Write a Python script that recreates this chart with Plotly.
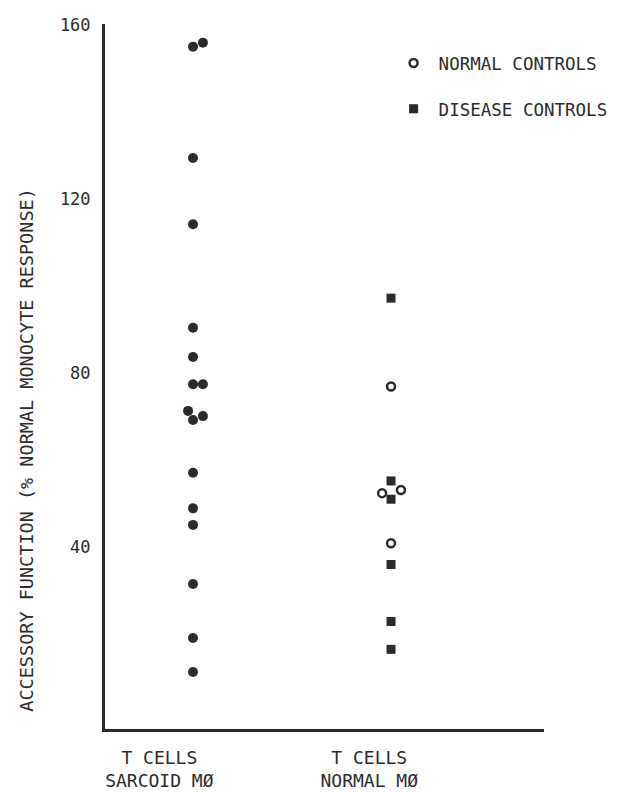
import plotly.graph_objects as go

# ---- data ----
categories = ["T CELLS<br>SARCOID MØ", "T CELLS<br>NORMAL MØ"]
y_ticks = [40, 80, 120, 160]

# T cells + sarcoid macrophages (filled circles)
sarcoid_values = [155.0, 155.9, 129.4, 114.2, 90.4, 83.7, 77.4, 77.4,
                  71.3, 69.2, 70.1, 57.1, 48.9, 45.1, 31.5, 19.1, 11.3]
sarcoid_jitter = [0, 0.1, 0, 0, 0, 0, 0, 0.1,
                  -0.05, 0, 0.1, 0, 0, 0, 0, 0, 0]

# T cells + normal macrophages
normal_ctrl_values = [76.9, 52.4, 53.1, 40.9]          # open circles
normal_ctrl_jitter = [0, -0.09, 0.1, 0]
disease_ctrl_values = [97.2, 55.2, 51.0, 36.0, 22.9, 16.5]  # filled squares
disease_ctrl_jitter = [0, 0, 0, 0, 0, 0]

legend_names = ["NORMAL CONTROLS", "DISEASE CONTROLS"]
y_title = "ACCESSORY FUNCTION (% NORMAL MONOCYTE RESPONSE)"

# ---- layout helpers ----
cat_pos = [1, 3]
ink = "#2b2b2b"
font_family = "DejaVu Sans Mono"

fig = go.Figure()
fig.add_trace(go.Scatter(
    x=[cat_pos[0] + j for j in sarcoid_jitter], y=sarcoid_values,
    mode="markers", showlegend=False,
    marker=dict(symbol="circle", size=10, color=ink),
))
fig.add_trace(go.Scatter(
    x=[cat_pos[1] + j for j in normal_ctrl_jitter], y=normal_ctrl_values,
    mode="markers", name=legend_names[0], legendgroup="a",
    marker=dict(symbol="circle-open", size=8, color=ink, line=dict(width=2.5, color=ink)),
))
fig.add_trace(go.Scatter(
    x=[cat_pos[1] + j for j in disease_ctrl_jitter], y=disease_ctrl_values,
    mode="markers", name=legend_names[1], legendgroup="b",
    marker=dict(symbol="square", size=9, color=ink),
))

fig.update_layout(
    width=610, height=784,
    margin=dict(l=97, r=74, t=16, b=63, autoexpand=False),
    paper_bgcolor="white", plot_bgcolor="white",
    font=dict(family=font_family, size=18, color=ink),
    showlegend=True,
    legend=dict(x=0.646, y=0.97, xanchor="left", yanchor="top",
                bgcolor="rgba(0,0,0,0)", tracegroupgap=20, itemwidth=40,
                font=dict(family=font_family, size=17.5, color=ink)),
    xaxis=dict(range=[0.111, 4.545], showgrid=False, zeroline=False,
               showline=True, linewidth=3, linecolor=ink, automargin=False,
               tickvals=[0.66, 2.78], ticktext=categories, ticks="",
               ticklabelstandoff=10,
               tickfont=dict(family=font_family, size=18, color=ink)),
    yaxis=dict(range=[-1.8, 160.2], showgrid=False, zeroline=False,
               showline=True, linewidth=3, linecolor=ink, automargin=False,
               tickvals=y_ticks, ticks="", ticklabelstandoff=8,
               tickfont=dict(family=font_family, size=17, color=ink)),
    annotations=[dict(text=y_title, xref="paper", yref="paper",
                      x=-0.178, y=0.396, textangle=-90, showarrow=False,
                      xanchor="center", yanchor="middle",
                      font=dict(family=font_family, size=18.5, color=ink))],
)

fig.write_html("out.html")
